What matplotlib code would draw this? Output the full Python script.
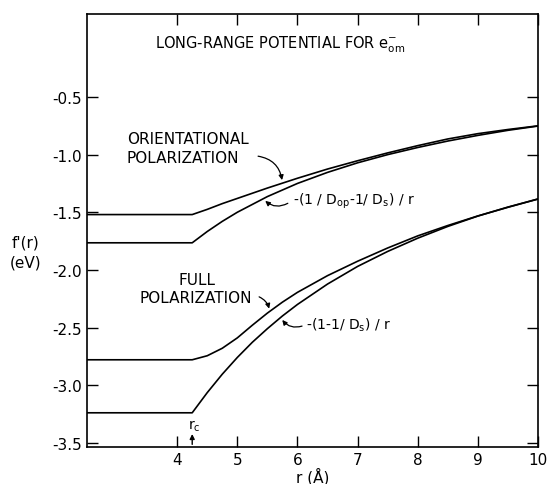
import matplotlib
matplotlib.use("Agg")
import matplotlib.pyplot as plt

plt.rcParams['font.family'] = ['DejaVu Sans']
plt.rcParams['mathtext.default'] = 'regular'
plt.rcParams['axes.unicode_minus'] = False

# orientational polarization (smooth) and -(1/Dop-1/Ds)/r with cutoff
r_ori = [2.5, 4.25, 4.5, 4.75, 5.0, 5.5, 6.0, 6.5, 7.0, 7.5, 8.0, 8.5, 9.0, 9.5, 10.0]
f_ori = [-1.52, -1.52, -1.475, -1.425, -1.38, -1.29, -1.205, -1.125, -1.053, -0.985,
         -0.922, -0.864, -0.818, -0.782, -0.75]
r_ori_c = [2.5, 4.25, 4.5, 4.75, 5.0, 5.5, 6.0, 6.5, 7.0, 7.5, 8.0, 8.5, 9.0, 9.5, 10.0]
f_ori_c = [-1.765, -1.765, -1.667, -1.579, -1.50, -1.364, -1.25, -1.154, -1.071, -1.0,
           -0.938, -0.882, -0.833, -0.789, -0.752]

# full polarization (smooth) and -(1-1/Ds)/r with cutoff
r_full = [2.5, 4.25, 4.5, 4.75, 5.0, 5.25, 5.5, 5.75, 6.0, 6.5, 7.0, 7.5, 8.0, 8.5, 9.0,
          9.5, 10.0]
f_full = [-2.78, -2.78, -2.745, -2.68, -2.59, -2.48, -2.375, -2.28, -2.195, -2.05, -1.925,
          -1.81, -1.705, -1.615, -1.532, -1.457, -1.385]
r_full_c = [2.5, 4.25, 4.5, 4.75, 5.0, 5.25, 5.5, 5.75, 6.0, 6.5, 7.0, 7.5, 8.0, 8.5, 9.0,
            9.5, 10.0]
f_full_c = [-3.24, -3.24, -3.065, -2.905, -2.76, -2.628, -2.51, -2.40, -2.30, -2.123, -1.97,
            -1.84, -1.725, -1.623, -1.533, -1.455, -1.385]

xticks = [4, 5, 6, 7, 8, 9, 10]
yticks = [-3.5, -3.0, -2.5, -2.0, -1.5, -1.0, -0.5]
r_c = 4.25

fig = plt.figure(figsize=(5.47, 4.85), dpi=100)
ax = fig.add_axes([0.159, 0.076, 0.8245, 0.893])

for xs, ys in [(r_ori, f_ori), (r_ori_c, f_ori_c), (r_full, f_full), (r_full_c, f_full_c)]:
    ax.plot(xs, ys, color='black', lw=1.2)

ax.set_xlim(2.5, 10)
ax.set_ylim(-3.538, 0.22)
ax.set_xticks(xticks)
ax.set_yticks(yticks)
ax.set_yticklabels([f"{v:.1f}" for v in yticks])
ax.tick_params(direction='in', length=8, width=1.0, labelsize=11, top=True, right=True)
# no tick marks at r = 10 (it sits on the frame corner)
for t in ax.xaxis.get_major_ticks():
    if t.get_loc() == 10:
        t.tick2line.set_visible(False)
        t.tick1line.set_visible(False)
for s in ax.spines.values():
    s.set_linewidth(1.2)

fig.text(0.572, 0.017, 'r (Å)', fontsize=11, ha='center', va='center')
fig.text(0.022, 0.499, "f'(r)", fontsize=11, va='center')
fig.text(0.018, 0.457, "(eV)", fontsize=11, va='center')

ax.text(3.63, -0.04, r'LONG-RANGE POTENTIAL FOR $e^{-}_{om}$', fontsize=10.5, va='center')

ax.text(3.16, -0.94, 'ORIENTATIONAL\nPOLARIZATION', fontsize=11, va='center',
        linespacing=1.3)
ax.annotate('', xy=(5.75, -1.245), xytext=(5.3, -1.01),
            arrowprops=dict(arrowstyle='-|>', color='black', lw=0.9,
                            connectionstyle='arc3,rad=-0.4', mutation_scale=7))
ax.text(5.92, -1.40, r'-(1 / D$_{op}$-1/ D$_s$) / r', fontsize=10, va='center')
ax.annotate('', xy=(5.43, -1.385), xytext=(5.88, -1.41),
            arrowprops=dict(arrowstyle='-|>', color='black', lw=0.9,
                            connectionstyle='arc3,rad=-0.4', mutation_scale=7))

ax.text(4.33, -2.08, 'FULL', fontsize=11, va='center', ha='center')
ax.text(3.38, -2.236, 'POLARIZATION', fontsize=11, va='center')
ax.annotate('', xy=(5.54, -2.36), xytext=(5.32, -2.225),
            arrowprops=dict(arrowstyle='-|>', color='black', lw=0.9,
                            connectionstyle='arc3,rad=-0.3', mutation_scale=7))
ax.text(6.15, -2.47, r'-(1-1/ D$_s$) / r', fontsize=10, va='center')
ax.annotate('', xy=(5.72, -2.415), xytext=(6.12, -2.48),
            arrowprops=dict(arrowstyle='-|>', color='black', lw=0.9,
                            connectionstyle='arc3,rad=-0.4', mutation_scale=7))

ax.annotate('', xy=(r_c, -3.40), xytext=(r_c, -3.538),
            arrowprops=dict(arrowstyle='-|>', color='black', lw=1.0, mutation_scale=7))
ax.text(r_c + 0.03, -3.345, r'r$_c$', fontsize=10, ha='center', va='center')

fig.savefig('out.png', dpi=100)
